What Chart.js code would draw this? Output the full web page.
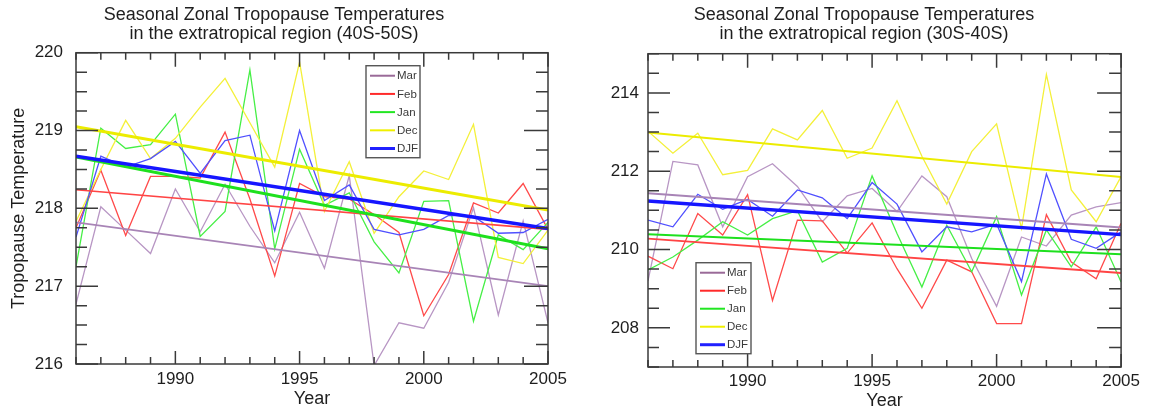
<!DOCTYPE html>
<html>
<head>
<meta charset="utf-8">
<title>Seasonal Zonal Tropopause Temperatures</title>
<script src="https://cdn.jsdelivr.net/npm/chart.js@4.4.1/dist/chart.umd.min.js"></script>
<style>
  html, body { margin: 0; padding: 0; background: #fff; }
  body { width: 1153px; height: 412px; position: relative; overflow: hidden; }
  canvas { position: absolute; top: 0; }
  #Trop4050 { left: 0; }
  #Trop3040 { left: 604px; }
</style>
</head>
<body>
<canvas id="Trop4050" width="604" height="412"></canvas>
<canvas id="Trop3040" width="540" height="412"></canvas>
<script>
// Years on the x axis
const years = [1986, 1987, 1988, 1989, 1990, 1991, 1992, 1993, 1994, 1995,
               1996, 1997, 1998, 1999, 2000, 2001, 2002, 2003, 2004, 2005];
const trend_years = [1986, 2005];
const x_ticks = [1990, 1995, 2000, 2005];

// 40S-50S
const mar_4050 = [216.77, 218.02, 217.72, 217.42, 218.25, 217.70, 218.31, 217.77, 217.30, 217.95,
                  217.23, 218.42, 215.98, 216.53, 216.46, 217.05, 218.01, 216.63, 217.84, 216.53];
const feb_4050 = [217.75, 218.49, 217.65, 218.41, 218.41, 218.39, 218.98, 218.12, 217.13, 218.32,
                  218.15, 218.12, 217.92, 217.69, 216.62, 217.15, 218.07, 217.94, 218.32, 217.73];
const jan_4050 = [217.25, 219.03, 218.77, 218.82, 219.21, 217.64, 217.96, 219.78, 217.48, 218.76,
                  218.04, 218.20, 217.57, 217.17, 218.09, 218.10, 216.55, 217.66, 217.47, 217.82];
const dec_4050 = [217.83, 218.50, 219.13, 218.64, 218.90, 219.30, 219.67, 219.10, 218.53, 219.88,
                  217.96, 218.60, 217.68, 218.15, 218.48, 218.37, 219.08, 217.37, 217.29, 217.72];
const djf_4050 = [217.63, 218.67, 218.53, 218.64, 218.86, 218.45, 218.87, 218.94, 217.71, 219.00,
                  218.10, 218.30, 217.73, 217.66, 217.73, 217.91, 217.90, 217.68, 217.69, 217.86];
const mar_4050_trend = [217.82, 217.00];
const feb_4050_trend = [218.24, 217.73];
const jan_4050_trend = [218.66, 217.48];
const dec_4050_trend = [219.05, 217.98];
const djf_4050_trend = [218.67, 217.74];
const y_ticks_4050 = [216, 217, 218, 219, 220];

// 30S-40S
const mar_3040 = [209.20, 212.25, 212.16, 210.58, 211.86, 212.19, 211.61, 210.71, 211.37, 211.56,
                  210.97, 211.88, 211.35, 209.77, 208.55, 210.32, 210.09, 210.88, 211.09, 211.20];
const feb_3040 = [209.83, 209.51, 210.92, 210.37, 211.40, 208.70, 210.75, 210.73, 209.91, 210.68,
                  209.51, 208.50, 209.73, 209.43, 208.11, 208.11, 210.89, 209.68, 209.25, 210.67];
const jan_3040 = [209.48, 209.81, 210.24, 210.71, 210.37, 210.79, 210.99, 209.68, 210.03, 211.88,
                  210.41, 209.04, 210.62, 209.43, 210.84, 208.84, 210.50, 209.56, 210.58, 209.17];
const dec_3040 = [213.02, 212.46, 212.97, 211.91, 212.02, 213.08, 212.80, 213.55, 212.33, 212.59,
                  213.80, 212.38, 211.16, 212.50, 213.21, 210.54, 214.47, 211.52, 210.71, 211.86];
const djf_3040 = [210.75, 210.58, 211.41, 211.03, 211.28, 210.85, 211.52, 211.32, 210.79, 211.71,
                  211.16, 209.94, 210.58, 210.45, 210.65, 209.18, 211.93, 210.26, 210.03, 210.45];
const mar_3040_trend = [211.44, 210.56];
const feb_3040_trend = [210.28, 209.40];
const jan_3040_trend = [210.39, 209.88];
const dec_3040_trend = [212.99, 211.85];
const djf_3040_trend = [211.24, 210.38];
const y_ticks_3040 = [208, 210, 212, 214];

(function () {
  "use strict";

  const font_family = '"Liberation Sans", Arial, Helvetica, sans-serif';
  const text_dark   = '#1e1e1e';
  const axis_gray   = '#3a3a3a';

  // Series colours: thin yearly line, trend line, legend sample
  const colors = {
    Mar: { line: '#b896c4', trend: '#a884b6', legend: '#9a6a98' },
    Feb: { line: '#ff4a4a', trend: '#ff4444', legend: '#ff2a2a' },
    Jan: { line: '#46ef46', trend: '#1ee01e', legend: '#22e622' },
    Dec: { line: '#f4f03a', trend: '#ecec00', legend: '#f0f000' },
    DJF: { line: '#5050ff', trend: '#1616ff', legend: '#2020ff' }
  };

  function toPoints(xs, ys) {
    return xs.map(function (x, i) { return { x: x, y: ys[i] }; });
  }

  // Frame with inward ticks on all four sides
  const frameTicks = {
    id: 'frameTicks',
    afterDatasetsDraw(chart, args, o) {
      const ctx = chart.ctx, a = chart.chartArea;
      const xs = chart.scales.x, ys = chart.scales.y;
      ctx.save();
      ctx.strokeStyle = axis_gray;
      ctx.lineWidth = 1.5;
      ctx.beginPath();
      for (let yr = xs.min; yr <= xs.max; yr++) {
        const px = xs.getPixelForValue(yr);
        const major = yr % 5 === 0;
        ctx.moveTo(px, a.bottom);
        ctx.lineTo(px, a.bottom - (major ? 13 : 7));
        ctx.moveTo(px, a.top);
        ctx.lineTo(px, a.top + (major ? 14 : 7));
      }
      const n = Math.round((ys.max - ys.min) / o.yStep);
      for (let i = 0; i <= n; i++) {
        const v = ys.min + i * o.yStep;
        const py = ys.getPixelForValue(v);
        const major = ys.ticks.some(function (t) { return Math.abs(t.value - v) < 1e-6; });
        ctx.moveTo(a.left, py);
        ctx.lineTo(a.left + (major ? 22 : 11), py);
        ctx.moveTo(a.right, py);
        ctx.lineTo(a.right - (major ? 24 : 12), py);
      }
      ctx.stroke();
      ctx.strokeRect(a.left, a.top, a.right - a.left, a.bottom - a.top);
      ctx.restore();
    }
  };

  // Boxed legend inside the plot
  const boxLegend = {
    id: 'boxLegend',
    afterDraw(chart, args, o) {
      const ctx = chart.ctx, a = chart.chartArea;
      const items = chart.data.datasets.filter(function (d) { return d.legendColor; })
        .sort(function (p, q) { return p.legendRank - q.legendRank; });
      const left = a.left + o.dx;
      const top = a.top + o.dy;
      ctx.save();
      ctx.fillStyle = '#fff';
      ctx.fillRect(left, top, o.w, o.h);
      ctx.strokeStyle = '#555';
      ctx.lineWidth = 1.4;
      ctx.strokeRect(left, top, o.w, o.h);
      ctx.font = '11.5px ' + font_family;
      ctx.textBaseline = 'middle';
      ctx.textAlign = 'left';
      items.forEach(function (d, i) {
        const y = top + 10 + i * o.step;
        ctx.strokeStyle = d.legendColor;
        ctx.lineWidth = d.label === 'DJF' ? 3 : 2;
        ctx.beginPath();
        ctx.moveTo(left + 4, y);
        ctx.lineTo(left + 29, y);
        ctx.stroke();
        ctx.fillStyle = '#3a3a3a';
        ctx.fillText(d.label, left + 31, y + 0.5);
      });
      ctx.restore();
    }
  };

  function makeDatasets(s, widths) {
    const names = ['Mar', 'Feb', 'Jan', 'Dec', 'DJF'];
    const trends = [];
    const lines = [];
    names.forEach(function (name, k) {
      trends.push({
        label: name + ' trend',
        data: toPoints(trend_years, s[name].trend),
        borderColor: colors[name].trend,
        borderWidth: widths[name],
        pointRadius: 0,
        fill: false
      });
      lines.push({
        label: name,
        data: toPoints(years, s[name].values),
        borderColor: colors[name].line,
        borderWidth: 1.3,
        pointRadius: 0,
        fill: false,
        legendColor: colors[name].legend,
        legendRank: k
      });
    });
    // first dataset is drawn on top: DJF trend topmost
    return trends.reverse().concat(lines.reverse());
  }

  function makeChart(id, p) {
    const el = document.getElementById(id);
    if (el == null) return;
    return new Chart(el.getContext('2d'), {
      type: 'line',
      data: { datasets: makeDatasets(p.series, p.widths) },
      options: {
        responsive: false,
        animation: false,
        layout: { padding: { left: 0, right: p.padRight, top: 0, bottom: 0 } },
        plugins: {
          legend: { display: false },
          tooltip: { enabled: false },
          title: {
            display: true,
            text: p.title,
            color: text_dark,
            font: { family: font_family, size: 18, weight: 'normal', lineHeight: 1.02 },
            padding: { top: 6, bottom: p.titleGap }
          },
          frameTicks: { yStep: p.yStep },
          boxLegend: p.legend
        },
        scales: {
          x: {
            type: 'linear',
            min: 1986,
            max: 2005,
            grid: { display: false, drawTicks: false },
            border: { display: false },
            ticks: {
              color: text_dark,
              padding: p.xPad,
              maxRotation: 0,
              autoSkip: false,
              font: { family: font_family, size: 17 },
              callback: function (v) { return String(v); }
            },
            title: {
              display: true,
              text: 'Year',
              color: text_dark,
              font: { family: font_family, size: 18 },
              padding: { top: 0, bottom: p.yearPad }
            },
            afterBuildTicks: function (scale) {
              scale.ticks = x_ticks.map(function (v) { return { value: v }; });
            },
            afterFit: function (scale) { scale.height = p.xHeight; }
          },
          y: {
            type: 'linear',
            min: p.yMin,
            max: p.yMax,
            grid: { display: false, drawTicks: false },
            border: { display: false },
            ticks: {
              color: text_dark,
              padding: p.yPad,
              font: { family: font_family, size: 17 },
              callback: function (v) { return String(v); }
            },
            title: {
              display: p.yTitle !== '',
              text: p.yTitle,
              color: text_dark,
              font: { family: font_family, size: 18 },
              padding: { top: 8, bottom: 0 }
            },
            afterBuildTicks: function (scale) {
              scale.ticks = p.yTicks.map(function (v) { return { value: v }; });
            },
            afterFit: function (scale) { scale.width = p.yWidth; }
          }
        }
      },
      plugins: [frameTicks, boxLegend]
    });
  }

  // Left panel: 40S-50S
  makeChart('Trop4050', {
    title: ['Seasonal Zonal Tropopause Temperatures', 'in the extratropical region (40S-50S)'],
    titleGap: 10,
    series: {
      Mar: { values: mar_4050, trend: mar_4050_trend },
      Feb: { values: feb_4050, trend: feb_4050_trend },
      Jan: { values: jan_4050, trend: jan_4050_trend },
      Dec: { values: dec_4050, trend: dec_4050_trend },
      DJF: { values: djf_4050, trend: djf_4050_trend }
    },
    widths: { Mar: 1.6, Feb: 1.6, Jan: 3, Dec: 3, DJF: 3.4 },
    yMin: 216, yMax: 220, yStep: 0.25, yTicks: y_ticks_4050,
    yTitle: 'Tropopause Temperature',
    yWidth: 76, yPad: 13,
    xHeight: 48, xPad: 5, yearPad: 2,
    padRight: 56,
    legend: { dx: 290, dy: 13, w: 54, h: 92, step: 18.2 }
  });

  // Right panel: 30S-40S
  makeChart('Trop3040', {
    title: ['Seasonal Zonal Tropopause Temperatures', 'in the extratropical region (30S-40S)'],
    titleGap: 11,
    series: {
      Mar: { values: mar_3040, trend: mar_3040_trend },
      Feb: { values: feb_3040, trend: feb_3040_trend },
      Jan: { values: jan_3040, trend: jan_3040_trend },
      Dec: { values: dec_3040, trend: dec_3040_trend },
      DJF: { values: djf_3040, trend: djf_3040_trend }
    },
    widths: { Mar: 2, Feb: 1.8, Jan: 2, Dec: 2, DJF: 3.4 },
    yMin: 207, yMax: 215, yStep: 0.5, yTicks: y_ticks_3040,
    yTitle: '',
    yWidth: 44, yPad: 9,
    xHeight: 45, xPad: 4, yearPad: 0,
    padRight: 20,
    legend: { dx: 48, dy: 209, w: 55, h: 91, step: 18 }
  });

})();
</script>
</body>
</html>
